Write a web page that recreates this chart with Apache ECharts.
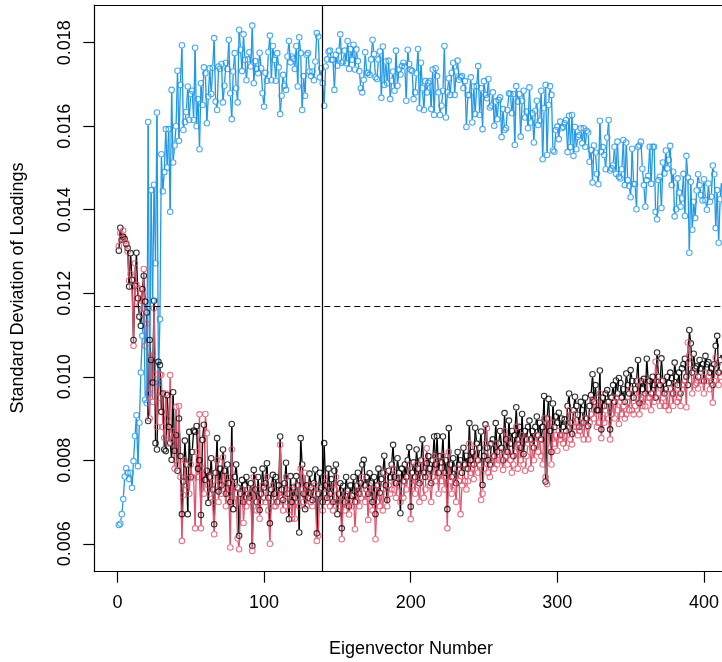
<!DOCTYPE html>
<html><head><meta charset="utf-8">
<script src="https://cdn.jsdelivr.net/npm/echarts@6/dist/echarts.min.js"></script>
<style>html,body{margin:0;padding:0;background:#fff}#chart{width:722px;height:662px}</style>
</head><body><div id="chart"></div>
<script>
const firstIndex = 1;
const blueValues = [
0.00645,0.00648,0.00671,0.00707,0.00761,0.00781,0.00770,0.00755,0.00770,0.00734,
0.00798,0.00858,0.00908,0.00786,0.00890,0.01010,0.01098,0.01165,0.00945,0.00937,
0.01610,0.00960,0.01447,0.01182,0.01460,0.01272,0.01633,0.00985,0.01138,0.01533,
0.01444,0.01490,0.01593,0.01501,0.01593,0.01395,0.01687,0.01513,0.01554,0.01600,
0.01733,0.01565,0.01699,0.01794,0.01591,0.01610,0.01634,0.01695,0.01615,0.01677,
0.01685,0.01615,0.01788,0.01600,0.01665,0.01545,0.01703,0.01651,0.01741,0.01727,
0.01607,0.01671,0.01739,0.01677,0.01740,0.01811,0.01659,0.01639,0.01743,0.01737,
0.01749,0.01657,0.01697,0.01752,0.01737,0.01807,0.01679,0.01617,0.01731,0.01775,
0.01691,0.01657,0.01831,0.01783,0.01732,0.01820,0.01759,0.01710,0.01760,0.01777,
0.01743,0.01841,0.01703,0.01756,0.01737,0.01727,0.01776,0.01739,0.01679,0.01647,
0.01728,0.01709,0.01777,0.01817,0.01710,0.01792,0.01759,0.01709,0.01775,0.01741,
0.01629,0.01673,0.01723,0.01697,0.01687,0.01767,0.01804,0.01753,0.01767,0.01762,
0.01737,0.01792,0.01695,0.01813,0.01775,0.01639,0.01720,0.01673,0.01771,0.01775,
0.01731,0.01720,0.01731,0.01710,0.01755,0.01823,0.01815,0.01717,0.01739,0.01703,
0.01649,0.01743,0.01760,0.01779,0.01781,0.01759,0.01759,0.01687,0.01771,0.01745,
0.01781,0.01820,0.01752,0.01755,0.01781,0.01751,0.01804,0.01737,0.01785,0.01759,
0.01795,0.01736,0.01784,0.01756,0.01732,0.01691,0.01681,0.01711,0.01777,0.01727,
0.01728,0.01723,0.01760,0.01807,0.01773,0.01717,0.01713,0.01760,0.01779,0.01668,
0.01791,0.01699,0.01755,0.01703,0.01757,0.01665,0.01709,0.01731,0.01685,0.01781,
0.01697,0.01736,0.01724,0.01744,0.01752,0.01743,0.01661,0.01783,0.01749,0.01735,
0.01732,0.01665,0.01681,0.01727,0.01785,0.01643,0.01752,0.01691,0.01639,0.01708,
0.01681,0.01704,0.01708,0.01641,0.01736,0.01627,0.01739,0.01720,0.01681,0.01627,
0.01649,0.01685,0.01792,0.01621,0.01681,0.01715,0.01675,0.01728,0.01752,0.01675,
0.01731,0.01757,0.01711,0.01717,0.01720,0.01691,0.01708,0.01598,0.01675,0.01674,
0.01717,0.01609,0.01695,0.01629,0.01696,0.01744,0.01627,0.01691,0.01593,0.01708,
0.01675,0.01667,0.01713,0.01645,0.01649,0.01681,0.01601,0.01659,0.01617,0.01663,
0.01669,0.01574,0.01641,0.01591,0.01595,0.01639,0.01679,0.01677,0.01631,0.01677,
0.01555,0.01696,0.01659,0.01677,0.01575,0.01661,0.01685,0.01621,0.01635,0.01595,
0.01693,0.01609,0.01631,0.01561,0.01637,0.01661,0.01603,0.01613,0.01685,0.01521,
0.01643,0.01699,0.01531,0.01651,0.01696,0.01675,0.01542,0.01539,0.01591,0.01599,
0.01569,0.01611,0.01595,0.01598,0.01607,0.01615,0.01538,0.01625,0.01550,0.01627,
0.01529,0.01598,0.01545,0.01575,0.01579,0.01595,0.01559,0.01595,0.01551,0.01589,
0.01585,0.01515,0.01543,0.01465,0.01554,0.01537,0.01486,0.01461,0.01613,0.01539,
0.01550,0.01531,0.01497,0.01573,0.01615,0.01494,0.01499,0.01506,0.01551,0.01486,
0.01563,0.01479,0.01475,0.01497,0.01567,0.01459,0.01561,0.01471,0.01457,0.01430,
0.01546,0.01462,0.01461,0.01401,0.01551,0.01554,0.01563,0.01498,0.01459,0.01407,
0.01471,0.01481,0.01551,0.01462,0.01551,0.01551,0.01395,0.01377,0.01471,0.01479,
0.01404,0.01513,0.01487,0.01542,0.01499,0.01519,0.01553,0.01459,0.01491,0.01384,
0.01401,0.01475,0.01441,0.01407,0.01427,0.01486,0.01385,0.01529,0.01477,0.01297,
0.01467,0.01352,0.01419,0.01380,0.01446,0.01485,0.01459,0.01435,0.01422,0.01473,
0.01423,0.01400,0.01463,0.01419,0.01431,0.01506,0.01485,0.01356,0.01447,0.01321,
0.01425,0.01471,0.01358,0.01420,0.01445
];
const blackValues = [
0.01302,0.01357,0.01328,0.01335,0.01330,0.01318,0.01308,0.01216,0.01296,0.01232,
0.01088,0.01218,0.01297,0.01188,0.01144,0.01122,0.01210,0.01242,0.01180,0.01154,
0.00894,0.01088,0.01040,0.00986,0.01182,0.00841,0.00826,0.01036,0.01028,0.00916,
0.00960,0.00826,0.00822,0.00956,0.00880,0.00842,0.00801,0.00963,0.00823,0.00860,
0.00775,0.00900,0.00810,0.00671,0.00749,0.00847,0.00790,0.00671,0.00868,0.00760,
0.00820,0.00871,0.00868,0.00882,0.00780,0.00800,0.00669,0.00849,0.00885,0.00753,
0.00775,0.00698,0.00760,0.00805,0.00730,0.00647,0.00770,0.00853,0.00725,0.00780,
0.00740,0.00826,0.00775,0.00720,0.00790,0.00745,0.00700,0.00887,0.00683,0.00760,
0.00790,0.00735,0.00619,0.00720,0.00753,0.00700,0.00740,0.00760,0.00720,0.00711,
0.00745,0.00595,0.00777,0.00730,0.00700,0.00760,0.00681,0.00720,0.00780,0.00735,
0.00745,0.00793,0.00710,0.00649,0.00730,0.00765,0.00720,0.00760,0.00700,0.00740,
0.00857,0.00730,0.00705,0.00745,0.00794,0.00720,0.00659,0.00762,0.00700,0.00735,
0.00710,0.00762,0.00740,0.00627,0.00853,0.00790,0.00720,0.00683,0.00740,0.00710,
0.00768,0.00735,0.00705,0.00745,0.00778,0.00625,0.00720,0.00770,0.00735,0.00700,
0.00841,0.00740,0.00710,0.00780,0.00720,0.00755,0.00700,0.00775,0.00790,0.00671,
0.00720,0.00745,0.00637,0.00739,0.00700,0.00760,0.00727,0.00690,0.00740,0.00715,
0.00760,0.00700,0.00739,0.00770,0.00720,0.00745,0.00790,0.00801,0.00740,0.00760,
0.00720,0.00769,0.00745,0.00700,0.00760,0.00671,0.00740,0.00780,0.00722,0.00755,
0.00770,0.00811,0.00740,0.00705,0.00775,0.00759,0.00790,0.00837,0.00760,0.00745,
0.00805,0.00770,0.00673,0.00780,0.00750,0.00790,0.00760,0.00800,0.00831,0.00689,
0.00770,0.00795,0.00760,0.00826,0.00780,0.00745,0.00800,0.00850,0.00770,0.00760,
0.00793,0.00810,0.00780,0.00745,0.00800,0.00857,0.00790,0.00858,0.00770,0.00810,
0.00795,0.00857,0.00770,0.00800,0.00683,0.00877,0.00790,0.00760,0.00805,0.00780,
0.00745,0.00820,0.00790,0.00800,0.00770,0.00830,0.00790,0.00811,0.00780,0.00889,
0.00800,0.00820,0.00790,0.00878,0.00840,0.00800,0.00830,0.00869,0.00741,0.00810,
0.00886,0.00830,0.00800,0.00790,0.00840,0.00850,0.00810,0.00889,0.00820,0.00840,
0.00870,0.00830,0.00800,0.00913,0.00850,0.00820,0.00895,0.00840,0.00870,0.00810,
0.00860,0.00927,0.00850,0.00880,0.00830,0.00911,0.00815,0.00870,0.00850,0.00880,
0.00895,0.00850,0.00870,0.00830,0.00880,0.00905,0.00860,0.00890,0.00850,0.00880,
0.00954,0.00749,0.00900,0.00947,0.00870,0.00820,0.00936,0.00880,0.00905,0.00890,
0.00914,0.00860,0.00900,0.00880,0.00898,0.00870,0.00930,0.00960,0.00890,0.00863,
0.00920,0.00952,0.00930,0.00909,0.00880,0.00940,0.00920,0.00890,0.00950,0.00900,
0.00882,0.00930,0.00956,0.01006,0.00940,0.00980,0.00920,0.00920,0.01015,0.00874,
0.00950,0.00930,0.00960,0.00968,0.00940,0.00874,0.00950,0.00980,0.00940,0.00991,
0.00960,0.00997,0.00985,0.00950,0.00970,0.00940,0.01008,0.00980,0.00960,0.01016,
0.00990,0.00950,0.00970,0.00990,0.01040,0.00937,0.00990,0.00970,0.00995,0.00960,
0.01043,0.00990,0.00990,0.00960,0.01000,0.00980,0.00950,0.01058,0.01000,0.00980,
0.01044,0.00990,0.00960,0.00970,0.01000,0.00985,0.01010,0.00997,0.00960,0.01034,
0.01000,0.00980,0.01010,0.00960,0.01020,0.01030,0.01043,0.01000,0.00980,0.01112,
0.01080,0.01010,0.01055,0.01020,0.01025,0.01000,0.01040,0.01020,0.01030,0.00990,
0.01050,0.01030,0.01035,0.01010,0.01020,0.00980,0.01030,0.01074,0.01098,0.01010,
0.01040,0.01060,0.01030,0.01050,0.01040
];
const redValues = [
0.01313,0.01344,0.01330,0.01350,0.01325,0.01320,0.01300,0.01230,0.01246,0.01215,
0.01074,0.01272,0.01220,0.01212,0.01170,0.01200,0.01150,0.01258,0.01074,0.01127,
0.00960,0.00900,0.01050,0.00940,0.01164,0.01006,0.00880,0.00950,0.01006,0.01004,
0.00880,0.00854,0.00960,0.00900,0.00840,0.01004,0.00850,0.00870,0.00780,0.00928,
0.00789,0.00930,0.00760,0.00607,0.00717,0.00800,0.00740,0.00757,0.00720,0.00790,
0.00760,0.00757,0.00637,0.00820,0.00760,0.00910,0.00637,0.00780,0.00720,0.00911,
0.00865,0.00740,0.00720,0.00760,0.00700,0.00623,0.00740,0.00800,0.00700,0.00745,
0.00720,0.00807,0.00740,0.00690,0.00760,0.00720,0.00591,0.00826,0.00700,0.00740,
0.00720,0.00613,0.00587,0.00700,0.00730,0.00650,0.00710,0.00690,0.00730,0.00700,
0.00720,0.00583,0.00760,0.00700,0.00680,0.00730,0.00660,0.00700,0.00740,0.00710,
0.00700,0.00760,0.00680,0.00600,0.00700,0.00740,0.00690,0.00690,0.00720,0.00700,
0.00837,0.00710,0.00680,0.00720,0.00760,0.00700,0.00680,0.00730,0.00660,0.00720,
0.00660,0.00740,0.00700,0.00690,0.00780,0.00730,0.00700,0.00770,0.00690,0.00720,
0.00740,0.00700,0.00690,0.00720,0.00740,0.00607,0.00620,0.00730,0.00700,0.00680,
0.00760,0.00720,0.00700,0.00740,0.00690,0.00711,0.00680,0.00730,0.00760,0.00700,
0.00690,0.00720,0.00611,0.00700,0.00680,0.00720,0.00700,0.00670,0.00700,0.00690,
0.00720,0.00635,0.00700,0.00740,0.00690,0.00710,0.00760,0.00720,0.00700,0.00730,
0.00657,0.00740,0.00720,0.00680,0.00730,0.00611,0.00700,0.00740,0.00690,0.00720,
0.00680,0.00770,0.00720,0.00690,0.00740,0.00720,0.00730,0.00780,0.00730,0.00710,
0.00760,0.00740,0.00700,0.00720,0.00710,0.00750,0.00730,0.00760,0.00790,0.00659,
0.00740,0.00760,0.00720,0.00790,0.00740,0.00700,0.00760,0.00800,0.00710,0.00730,
0.00829,0.00760,0.00740,0.00700,0.00760,0.00810,0.00750,0.00800,0.00720,0.00770,
0.00750,0.00810,0.00730,0.00760,0.00637,0.00820,0.00750,0.00720,0.00760,0.00740,
0.00700,0.00780,0.00750,0.00671,0.00740,0.00790,0.00750,0.00730,0.00750,0.00840,
0.00770,0.00780,0.00755,0.00830,0.00800,0.00770,0.00790,0.00705,0.00720,0.00780,
0.00840,0.00877,0.00770,0.00760,0.00790,0.00810,0.00780,0.00840,0.00790,0.00800,
0.00820,0.00800,0.00777,0.00870,0.00810,0.00790,0.00850,0.00800,0.00770,0.00790,
0.00820,0.00880,0.00780,0.00840,0.00800,0.00860,0.00790,0.00775,0.00810,0.00840,
0.00850,0.00780,0.00830,0.00800,0.00840,0.00860,0.00820,0.00850,0.00810,0.00790,
0.00900,0.00760,0.00743,0.00900,0.00830,0.00790,0.00890,0.00840,0.00860,0.00823,
0.00870,0.00850,0.00860,0.00840,0.00860,0.00830,0.00890,0.00920,0.00850,0.00838,
0.00880,0.00910,0.00880,0.00860,0.00870,0.00890,0.00880,0.00850,0.00900,0.00880,
0.00850,0.00890,0.00910,0.00946,0.00900,0.00940,0.00880,0.00890,0.00960,0.00853,
0.00900,0.00890,0.00920,0.00930,0.00900,0.00850,0.00910,0.00940,0.00900,0.00950,
0.00920,0.00887,0.00940,0.00910,0.00930,0.00900,0.00910,0.00940,0.00920,0.00970,
0.00920,0.00910,0.00930,0.00950,0.00990,0.00910,0.00950,0.00930,0.00955,0.00929,
0.00990,0.00950,0.00950,0.00920,0.00960,0.00940,0.01036,0.00990,0.00960,0.00930,
0.00990,0.00950,0.00930,0.00930,0.00960,0.00920,0.00970,0.00960,0.00930,0.00980,
0.00960,0.00940,0.00950,0.00930,0.00970,0.00980,0.00990,0.00927,0.01082,0.01050,
0.01030,0.00960,0.01010,0.00980,0.00985,0.00972,0.01000,0.00990,0.00990,0.00960,
0.01010,0.00990,0.01000,0.00970,0.00985,0.00938,0.00990,0.01046,0.01030,0.00980,
0.01000,0.01020,0.00990,0.01010,0.01000
];
const xTicks = [0, 100, 200, 300, 400];
const yTicks = [0.006, 0.008, 0.010, 0.012, 0.014, 0.016, 0.018];
const refX = 140;
const refY = 0.01168;
const xTitle = 'Eigenvector Number';
const yTitle = 'Standard Deviation of Loadings';

const COLORS = { black: '#000000', red: '#DF536B', blue: '#2297E6' };
const FONT = '"Liberation Sans", Arimo, Arial, sans-serif';
const GAP = 3.2;

const toPoints = vals => vals.map((v, k) => [firstIndex + k, v]);
const toSegments = vals => {
  const s = [];
  for (let k = 0; k < vals.length - 1; k++) s.push([firstIndex + k, vals[k], firstIndex + k + 1, vals[k + 1]]);
  return s;
};
function gapRenderer(color) {
  return function (params, api) {
    const p1 = api.coord([api.value(0), api.value(1)]);
    const p2 = api.coord([api.value(2), api.value(3)]);
    const dx = p2[0] - p1[0], dy = p2[1] - p1[1];
    const len = Math.sqrt(dx * dx + dy * dy);
    if (len <= 2 * GAP) return null;
    const ux = dx / len, uy = dy / len;
    return {
      type: 'line',
      shape: { x1: p1[0] + ux * GAP, y1: p1[1] + uy * GAP, x2: p2[0] - ux * GAP, y2: p2[1] - uy * GAP },
      style: { stroke: color, lineWidth: 1.3 }
    };
  };
}
function lineSeries(vals, color) {
  return { type: 'custom', renderItem: gapRenderer(color), data: toSegments(vals),
    encode: { x: [0, 2], y: [1, 3] }, silent: true };
}
function pointSeries(vals, color) {
  return { type: 'scatter', data: toPoints(vals), symbol: 'circle', symbolSize: 5.5, silent: true,
    itemStyle: { color: 'rgba(0,0,0,0)', borderColor: color, borderWidth: 1.1 } };
}

const chart = echarts.init(document.getElementById('chart'), null, { renderer: 'canvas' });
const series = [
  lineSeries(blackValues, COLORS.black), pointSeries(blackValues, COLORS.black),
  lineSeries(redValues, COLORS.red), pointSeries(redValues, COLORS.red),
  lineSeries(blueValues, COLORS.blue), pointSeries(blueValues, COLORS.blue)
];
series.push({
  type: 'scatter', data: [], silent: true,
  markLine: {
    silent: true, symbol: 'none', animation: false, precision: 8, label: { show: false },
    data: [
      { xAxis: refX, lineStyle: { color: '#000', width: 1.2, type: 'solid' } },
      { yAxis: refY, lineStyle: { color: '#000', width: 1.2, type: [6, 4] } }
    ]
  }
});

const axisLineStyle = { color: '#000', width: 1.2 };
chart.setOption({
  animation: false,
  backgroundColor: '#ffffff',
  grid: { left: 94.3, top: 5, width: 627.7, height: 566.7, show: false },
  xAxis: [{
    type: 'value', min: -15.74, max: 411.91, splitLine: { show: false }, position: 'bottom',
    axisLine: { show: true, onZero: false, lineStyle: axisLineStyle },
    axisTick: { show: true, length: 11, customValues: xTicks, lineStyle: axisLineStyle },
    axisLabel: { customValues: xTicks, margin: 22, fontSize: 18, fontFamily: FONT, color: '#000' }
  }, {
    type: 'value', min: -15.74, max: 411.91, position: 'top', splitLine: { show: false },
    axisLine: { show: true, onZero: false, lineStyle: axisLineStyle },
    axisTick: { show: false }, axisLabel: { show: false }
  }],
  yAxis: {
    type: 'value', min: 0.005332, max: 0.018903, splitLine: { show: false },
    axisLine: { show: true, onZero: false, lineStyle: axisLineStyle },
    axisTick: { show: true, length: 11, customValues: yTicks, lineStyle: axisLineStyle },
    axisLabel: { customValues: yTicks, rotate: 90, margin: 20, fontSize: 18, fontFamily: FONT, color: '#000',
      formatter: v => v.toFixed(3) }
  },
  graphic: [
    { type: 'text', x: 411, y: 649, silent: true,
      style: { text: xTitle, font: '18px ' + FONT, fill: '#000', textAlign: 'center', textVerticalAlign: 'middle', align: 'center', verticalAlign: 'middle' } },
    { type: 'text', x: 18, y: 288, rotation: Math.PI / 2, silent: true,
      style: { text: yTitle, font: '18px ' + FONT, fill: '#000', textAlign: 'center', textVerticalAlign: 'middle', align: 'center', verticalAlign: 'middle' } }
  ],
  series: series
});
</script>
</body></html>
